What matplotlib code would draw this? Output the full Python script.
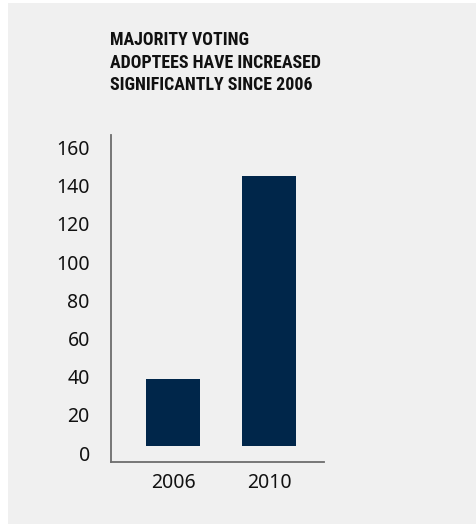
import matplotlib
matplotlib.use("Agg")
import matplotlib.pyplot as plt
from matplotlib.patches import Rectangle
from matplotlib import font_manager

# data
years = ["2006", "2010"]
adoptees = [35, 141]
yticks = [0, 20, 40, 60, 80, 100, 120, 140, 160]
title = "MAJORITY VOTING\nADOPTEES HAVE INCREASED\nSIGNIFICANTLY SINCE 2006"

# look for a narrow bold face for the heading
names = {f.name for f in font_manager.fontManager.ttflist}
narrow = [n for n in ["Liberation Sans Narrow", "DejaVu Sans Condensed", "Roboto Condensed", "Open Sans Condensed"] if n in names]

W, H = 476, 524
fig = plt.figure(figsize=(W / 100, H / 100), dpi=100, facecolor="white")

# gray panel behind everything
fig.patches.append(Rectangle((8 / W, 0), 1 - 8 / W, 1 - 3 / H, transform=fig.transFigure,
                             facecolor="#f0f0f0", edgecolor="none", zorder=-10))

ax = fig.add_axes([110.7 / W, 62 / H, (324 - 110.7) / W, (462 - 135) / H])
ax.set_facecolor("none")

x = range(len(years))
ax.bar(x, adoptees, width=0.5625, color="#00264a")

ax.set_xlim(-0.649, 1.573)
ax.set_ylim(-8.5, 162.5)
ax.set_xticks(list(x))
ax.set_xticklabels(years)
ax.set_yticks(yticks)
ax.set_yticklabels([str(v) for v in yticks])

for s in ["top", "right"]:
    ax.spines[s].set_visible(False)
for s in ["left", "bottom"]:
    ax.spines[s].set_color("#6d6d6d")
    ax.spines[s].set_linewidth(1.3)

ax.tick_params(axis="both", length=0, labelsize=14, labelcolor="#111111")
ax.tick_params(axis="y", pad=15)
ax.tick_params(axis="x", pad=8)
for lab in ax.get_yticklabels() + ax.get_xticklabels():
    lab.set_family(["Noto Sans", "DejaVu Sans"])
for lab in ax.get_yticklabels():
    lab.set_verticalalignment("top")

kw = dict(family=narrow[0]) if narrow else dict(family="DejaVu Sans", fontstretch="condensed")
fig.text(110 / W, 1 - 31 / H, title, ha="left", va="top", fontsize=12.9, fontweight="bold",
         linespacing=1.33, color="#111111", **kw)

fig.savefig("out.png", dpi=100, facecolor=fig.get_facecolor())
